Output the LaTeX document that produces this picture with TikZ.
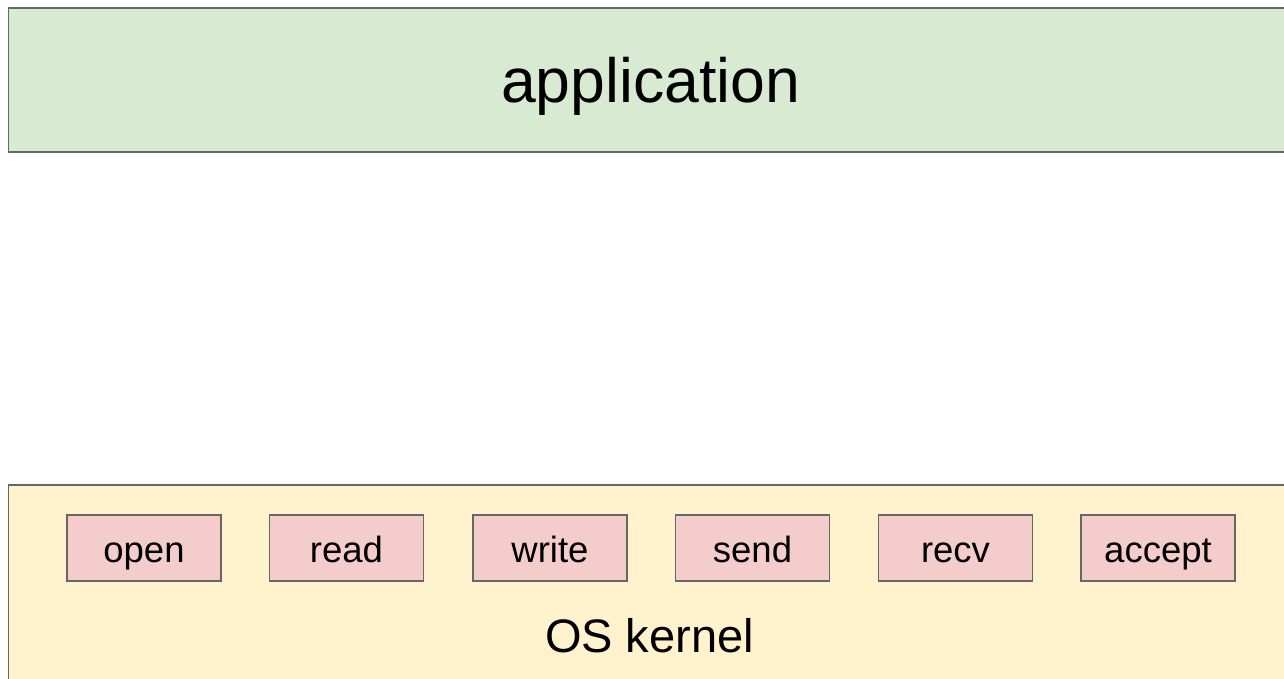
\documentclass[tikz,border=0pt]{standalone}
\usepackage{fontspec}
\setmainfont{Liberation Sans}
\definecolor{appgreen}{HTML}{D9EAD3}
\definecolor{kernyellow}{HTML}{FFF2CC}
\definecolor{callpink}{HTML}{F4CCCC}
\definecolor{edgegray}{HTML}{666666}
\begin{document}
\begin{tikzpicture}[x=1pt,y=-1pt,
  layer/.style={draw=edgegray, line width=1.6pt, inner sep=0pt, anchor=north west},
  callbox/.style={draw=edgegray, fill=callpink, line width=1.3pt, minimum width=154pt, minimum height=66pt, inner sep=0pt,
    text height=34pt, text depth=6pt, font=\fontsize{36.5}{40}\selectfont},
  bigtext/.style={inner sep=0pt, anchor=base}]
\useasboundingbox (0,0) rectangle (1284,679);
\clip (0,0) rectangle (1284,679);
\node[layer, fill=appgreen, minimum width=1290pt, minimum height=144pt] (app) at (7.5,7) {};
\node[layer, fill=kernyellow, minimum width=1290pt, minimum height=210pt] (kernel) at (7.5,484) {};
\node[bigtext, font=\fontsize{62.5}{70}\selectfont] (apptext) at (650.5,103) {application};
\node[bigtext, font=\fontsize{47}{54}\selectfont] (kerntext) at (649.5,652.5) {OS kernel};
\node[callbox] (open) at (144,548) {open};
\node[callbox] (read) at (346.5,548) {read};
\node[callbox] (write) at (550,548) {write};
\node[callbox] (send) at (752.5,548) {send};
\node[callbox] (recv) at (955.5,548) {recv};
\node[callbox] (accept) at (1158,548) {accept};
\end{tikzpicture}
\end{document}
